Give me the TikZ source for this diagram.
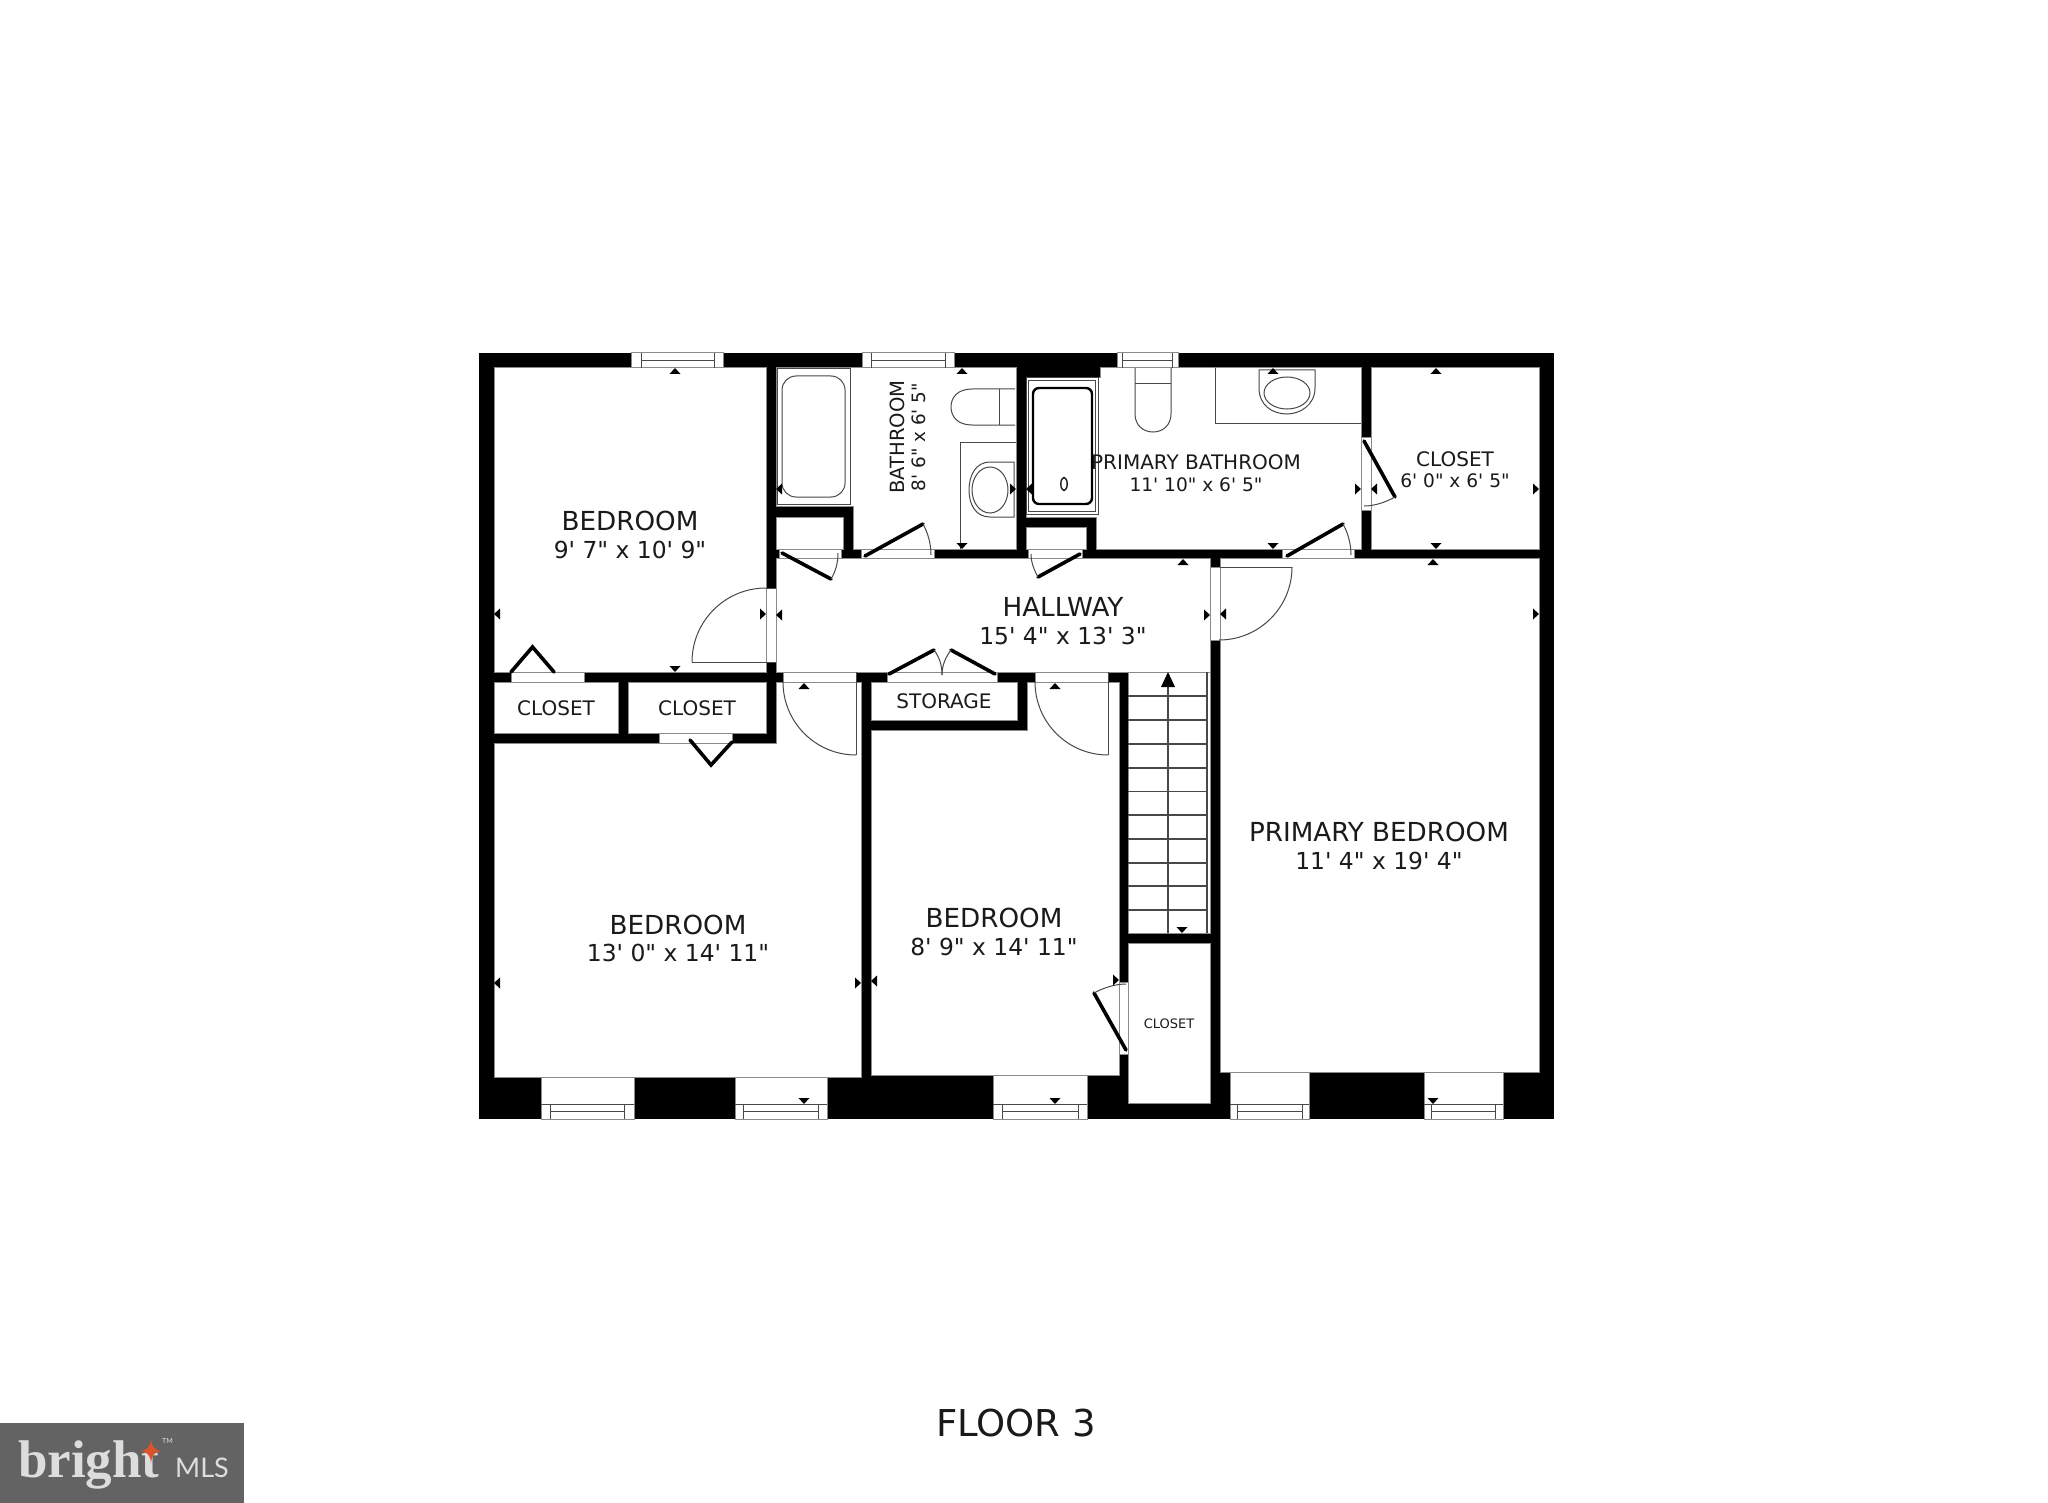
\documentclass[tikz,border=0pt]{standalone}
\usepackage{fontspec}
\setmainfont{DejaVu Sans}[Ligatures=TeXOff]
\newfontfamily\logoserif{Liberation Serif}
\newfontfamily\logosans{Lato}
\definecolor{edge}{HTML}{8A8A8A}
\definecolor{fix}{HTML}{484848}
\definecolor{ink}{HTML}{1A1A1A}
\definecolor{logobg}{HTML}{636363}
\definecolor{logofg}{HTML}{DDDDDD}
\definecolor{logored}{HTML}{D9532C}
\newcommand{\hole}[4]{\fill[white,draw=edge,line width=1pt] (#1,#2) rectangle (#3,#4);}
\newcommand{\mku}[2]{\fill[black] (#1,#2) -- ({#1-5.5},{#2+6}) -- ({#1+5.5},{#2+6}) -- cycle;}
\newcommand{\mkd}[2]{\fill[black] (#1,#2) -- ({#1-5.5},{#2-6}) -- ({#1+5.5},{#2-6}) -- cycle;}
\newcommand{\mkl}[2]{\fill[black] (#1,#2) -- ({#1+6},{#2-5.5}) -- ({#1+6},{#2+5.5}) -- cycle;}
\newcommand{\mkr}[2]{\fill[black] (#1,#2) -- ({#1-6},{#2-5.5}) -- ({#1-6},{#2+5.5}) -- cycle;}
\newcommand{\wintop}[4]{\hole{#1}{353}{#2}{368}
  \draw[fix,line width=1pt] (#3,353) -- (#3,368) (#4,353) -- (#4,368) (#3,361) -- (#4,361);}
\newcommand{\winbot}[5]{\fill[white,draw=edge,line width=1pt] (#1,#5) rectangle (#2,1119);
  \draw[fix,line width=1pt] (#1,1104) -- (#2,1104) (#3,1104) -- (#3,1119) (#4,1104) -- (#4,1119) (#3,1111) -- (#4,1111);}
\tikzset{
  roomfill/.style={fill=white,draw=edge,line width=1pt},
  leaf/.style={draw=black,line width=3.6pt,line cap=round},
  swing/.style={draw=fix,line width=1pt},
  fixture/.style={draw=fix,line width=1pt},
  label/.style={text=ink,inner sep=0pt,align=center},
  big/.style={label,font=\fontsize{26.2}{30}\selectfont},
  dim/.style={label,font=\fontsize{23.4}{27}\selectfont},
  smalldim/.style={label,font=\fontsize{18.6}{22}\selectfont}
}
\begin{document}
\begin{tikzpicture}[x=1pt,y=-1pt]
\useasboundingbox (0,0) rectangle (2048,1503);
\fill[white] (0,0) rectangle (2048,1503);
% shell
\fill[black] (479,353) rectangle (1554,1119);
% rooms
\path[roomfill] (494,368) rectangle (766,672);
\path[roomfill] (776,368) -- (1016,368) -- (1016,549) -- (853,549) -- (853,506) -- (776,506) -- cycle;
\path[roomfill] (776,517) rectangle (843,549);
\path[roomfill] (776,558) rectangle (1210,672);
\path[roomfill] (1100,368) -- (1361,368) -- (1361,549) -- (1096,549) -- (1096,517) -- (1026,517) -- (1026,378) -- (1100,378) -- cycle;
\path[roomfill] (1026,527) rectangle (1086,549);
\path[roomfill] (1371,368) rectangle (1539,549);
\path[roomfill] (1220,558) rectangle (1539,1072);
\path[roomfill] (494,682) rectangle (618,733);
\path[roomfill] (628,682) rectangle (766,733);
\path[roomfill] (494,743) -- (776,743) -- (776,682) -- (861,682) -- (861,1077) -- (494,1077) -- cycle;
\path[roomfill] (871,682) rectangle (1017,720);
\path[roomfill] (871,730) -- (1027,730) -- (1027,682) -- (1119,682) -- (1119,1075) -- (871,1075) -- cycle;
\path[roomfill] (1128,672) rectangle (1210,933);
\path[roomfill] (1128,943) rectangle (1210,1103);
% door openings
\hole{779}{549}{841}{558}
\hole{861}{549}{934}{558}
\hole{766}{588}{776}{662}
\hole{1028}{549}{1082}{558}
\hole{1282}{549}{1354}{558}
\hole{1361}{437}{1371}{510}
\hole{1210}{567}{1220}{640}
\hole{511}{672}{584}{682}
\hole{659}{733}{732}{743}
\hole{783}{672}{856}{682}
\hole{887}{672}{997}{682}
\hole{1035}{672}{1108}{682}
\hole{1119}{982}{1128}{1054}
% windows
\wintop{631}{723}{641}{714}
\wintop{862}{954}{871}{945}
\wintop{1117}{1178}{1122}{1172}
\winbot{541}{634}{550}{624}{1077}
\winbot{735}{827}{743}{818}{1077}
\winbot{993}{1087}{1002}{1078}{1075}
\winbot{1230}{1309}{1237}{1302}{1072}
\winbot{1424}{1503}{1431}{1495}{1072}
% door leaves and swings
\draw[leaf] (782,553) -- (831,579);
\draw[swing] (831,579) .. controls (836,571) and (838,562) .. (838,553);
\draw[leaf] (865,556) -- (923,524);
\draw[swing] (923,524) .. controls (928,533) and (931,544) .. (931,555);
\draw[swing] (692,662) -- (776,662) (766,588) -- (776,588);
\draw[swing] (766,588) arc (90:180:74pt);
\draw[leaf] (511,672) -- (532.5,647) -- (554,672);
\draw[leaf] (690,740) -- (711,765) -- (732,742);
\draw[swing] (856,672) -- (856,755);
\draw[swing] (783,682) arc (180:270:73pt);
\draw[leaf] (889,674) -- (934,650);
\draw[leaf] (995,674) -- (951,650);
\draw[swing] (934,650) .. controls (940,658) and (942,666) .. (942,675);
\draw[swing] (951,650) .. controls (945,658) and (942,666) .. (942,675);
\draw[swing] (1108,672) -- (1108,755);
\draw[swing] (1035,682) arc (180:270:73pt);
\draw[swing] (1220,567) -- (1292,567);
\draw[swing] (1292,567) arc (0:-90:73pt);
\draw[leaf] (1038,577) -- (1080,554);
\draw[swing] (1038,577) .. controls (1034,570) and (1031,562) .. (1031,554);
\draw[leaf] (1287,556) -- (1343,524);
\draw[swing] (1343,524) .. controls (1348,533) and (1351,544) .. (1351,555);
\draw[leaf] (1364,441) -- (1395,497);
\draw[swing] (1395,497) .. controls (1386,502) and (1375,506) .. (1364,506);
\draw[leaf] (1126,1050) -- (1094,993);
\draw[swing] (1094,993) .. controls (1103,988) and (1115,984) .. (1126,984);
% stairs
\draw[fix,line width=1.2pt]
  (1128,696) -- (1207,696) (1128,720) -- (1207,720) (1128,744) -- (1207,744)
  (1128,768) -- (1207,768) (1128,791.5) -- (1207,791.5) (1128,815) -- (1207,815)
  (1128,839) -- (1207,839) (1128,863) -- (1207,863) (1128,886) -- (1207,886)
  (1128,910) -- (1207,910) (1168,685) -- (1168,933) (1207,672) -- (1207,933);
\fill[black] (1168,672) -- (1161,687) -- (1175,687) -- cycle;
% bathroom fixtures
\path[fixture,fill=white] (777,369) rectangle (850,504);
\draw[fixture,rounded corners=14pt] (782,376) rectangle (845,497);
\draw[fixture] (1015,389) -- (972,389) .. controls (958,389) and (951,397) .. (951,407) .. controls (951,417) and (958,425) .. (972,425) -- (1015,425);
\draw[fixture] (999,389) -- (999,425);
\draw[fixture] (1016,442) -- (960,442) -- (960,549);
\draw[fixture] (1014,462) -- (990,462) .. controls (976,462) and (969,475) .. (969,490) .. controls (969,505) and (976,517) .. (990,517) -- (1014,517) -- cycle;
\draw[fixture] (990,490) ellipse [x radius=18pt,y radius=23pt];
\path[fixture,fill=white] (1026,378) rectangle (1098,514);
\draw[fixture] (1028.5,380.5) rectangle (1095.5,511.5);
\draw[black,line width=2.4pt,rounded corners=6pt] (1033,388) rectangle (1092,504);
\draw[ink,line width=1.4pt] (1064,484) ellipse [x radius=3.2pt,y radius=6.5pt];
\draw[fixture] (1135,368) -- (1135,414) .. controls (1135,425) and (1143,432) .. (1153,432) .. controls (1163,432) and (1171,425) .. (1171,414) -- (1171,368);
\draw[fixture] (1135,384) -- (1171,384);
\draw[fixture] (1215,368) -- (1215,423) -- (1361,423);
\draw[fixture] (1259,370) -- (1315,370) -- (1315,388) .. controls (1315,405) and (1300,414) .. (1287,414) .. controls (1272,414) and (1259,405) .. (1259,388) -- cycle;
\draw[fixture] (1287,393) ellipse [x radius=23pt,y radius=16pt];
% markers
\mku{675}{368} \mkd{675}{672} \mkl{494}{614} \mkr{766}{614}
\mkl{776}{615} \mku{1183}{559} \mkr{1210}{615}
\mku{804}{683} \mku{1055}{683}
\mku{962}{368} \mkd{962}{549} \mkl{776}{489} \mkr{1016}{489}
\mkl{1026}{489} \mkr{1361}{489} \mku{1273}{368} \mkd{1273}{549}
\mku{1436}{368} \mkd{1436}{549} \mkl{1371}{489} \mkr{1539}{489}
\mku{1433}{559} \mkl{1220}{614} \mkr{1539}{614} \mkd{1433}{1104}
\mkl{494}{983} \mkr{861}{983} \mkd{804}{1104}
\mkl{871}{981} \mkr{1119}{980} \mkd{1055}{1104}
\mkd{1182}{933}
% labels
\node[big] (bed1) at (630,521) {BEDROOM};
\node[dim] (bed1d) at (630,550) {9' 7" x 10' 9"};
\node[label,rotate=90,font=\fontsize{19.6}{24}\selectfont] (bath) at (897,437) {BATHROOM};
\node[label,rotate=90,font=\fontsize{18.4}{22}\selectfont] (bathd) at (919,437) {8' 6" x 6' 5"};
\node[label,font=\fontsize{20}{24}\selectfont] (pbath) at (1196,462) {PRIMARY BATHROOM};
\node[smalldim] (pbathd) at (1196,485) {11' 10" x 6' 5"};
\node[label,font=\fontsize{20}{24}\selectfont] (clo) at (1455,459) {CLOSET};
\node[smalldim] (clod) at (1455,481) {6' 0" x 6' 5"};
\node[big] (hall) at (1063,607) {HALLWAY};
\node[dim] (halld) at (1063,636) {15' 4" x 13' 3"};
\node[label,font=\fontsize{20}{24}\selectfont] (c1) at (556,708) {CLOSET};
\node[label,font=\fontsize{20}{24}\selectfont] (c2) at (697,708) {CLOSET};
\node[label,font=\fontsize{20}{24}\selectfont] (stor) at (944,701) {STORAGE};
\node[big] (pbed) at (1379,832) {PRIMARY BEDROOM};
\node[dim] (pbedd) at (1379,861) {11' 4" x 19' 4"};
\node[big] (bed2) at (678,925) {BEDROOM};
\node[dim] (bed2d) at (678,953) {13' 0" x 14' 11"};
\node[big] (bed3) at (994,918) {BEDROOM};
\node[dim] (bed3d) at (994,947) {8' 9" x 14' 11"};
\node[label,font=\fontsize{13}{16}\selectfont] (c3) at (1169,1024) {CLOSET};
\node[label,font=\fontsize{37}{42}\selectfont] (floor) at (1016,1423) {FLOOR 3};
% logo
\fill[logobg] (0,1423) rectangle (244,1503);
\node[anchor=base west,inner sep=0pt,text=logofg,font=\logoserif\bfseries\fontsize{53}{56}\selectfont] (logoa) at (18,1477) {bright};
\fill[logored] (151,1439) .. controls (152,1447) and (154,1450) .. (162,1451) .. controls (154,1452) and (152,1455) .. (151,1463) .. controls (150,1455) and (148,1452) .. (140,1451) .. controls (148,1450) and (150,1447) .. cycle;
\node[anchor=base west,inner sep=0pt,text=logofg,font=\logosans\fontsize{7}{8}\selectfont] (logot) at (162,1443) {TM};
\node[anchor=base west,inner sep=0pt,text=logofg,font=\logosans\fontsize{27}{30}\selectfont] (logob) at (175,1477) {MLS};
\end{tikzpicture}
\end{document}
